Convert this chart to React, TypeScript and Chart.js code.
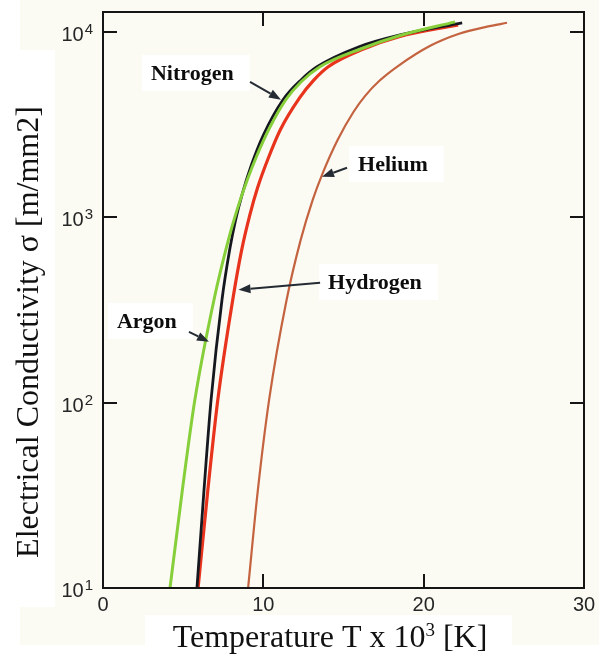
import React, { useEffect, useRef } from "react";
import { Chart, registerables } from "chart.js";

Chart.register(...registerables);

// ---- data (temperature in 10^3 K, conductivity in m/mm2) ----
const argonT = [4.18, 4.95, 5.73, 6.92, 7.82, 8.36, 9.0, 9.62, 10.39, 11.4, 12.36, 13.53, 16.11, 18.47, 21.96];
const argonSigma = [10, 33.8, 103.5, 358, 755, 1096, 1592, 2173, 3034, 4305, 5383, 6486, 8110, 9528, 11324];

const nitrogenT = [5.86, 6.3, 6.74, 7.42, 7.9, 8.27, 8.67, 9.26, 10.01, 11.23, 12.35, 13.35, 15.97, 18.53, 22.4];
const nitrogenSigma = [10, 33.8, 103.5, 358, 667, 968, 1321, 1919, 2786, 4305, 5508, 6486, 8318, 9638, 11194];

const hydrogenT = [5.93, 6.54, 7.16, 8.09, 8.65, 9.16, 9.64, 10.27, 11.06, 12.26, 13.16, 14.05, 16.29, 18.47, 22.15];
const hydrogenSigma = [10, 33.8, 103.5, 358, 667, 1030, 1442, 2042, 2965, 4406, 5508, 6486, 8110, 9419, 10914];

const heliumT = [9.05, 9.66, 10.36, 11.45, 12.33, 13.08, 13.66, 14.64, 15.63, 16.35, 17.24, 18.42, 20.41, 22.21, 23.95, 25.2];
const heliumSigma = [10, 33.8, 103.5, 358, 755, 1242, 1694, 2618, 3707, 4518, 5445, 6561, 8414, 9772, 10666, 11194];

const xTicks = [0, 10, 20, 30];
const yTicks = [10, 100, 1000, 10000];

const xTitleMain = "Temperature T x 10";
const xTitleSup = "3";
const xTitleEnd = " [K]";
const yTitle = "Electrical Conductivity σ [m/mm2]";

// annotation labels with arrow (data coordinates)
const annotations = [
  { text: "Nitrogen", tx: 2.99, ts: 5510, fx: 9.17, fs: 5380, px: 11.1, ps: 4305 },
  { text: "Helium", tx: 15.91, ts: 1778, fx: 15.22, fs: 1849, px: 13.66, ps: 1652 },
  { text: "Hydrogen", tx: 14.04, ts: 411, fx: 13.54, fs: 443, px: 8.45, ps: 406 },
  { text: "Argon", tx: 0.87, ts: 253, fx: 5.36, fs: 241, px: 6.61, ps: 213 },
];

const W = 599;
const H = 658;
const SANS = '"Liberation Sans", Arial, Helvetica, sans-serif';
const SERIF = '"Liberation Serif", "Times New Roman", serif';

const toPoints = (xs: number[], ys: number[]) => xs.map((x, i) => ({ x, y: ys[i] }));

const bgPlugin = {
  id: "bgPlugin",
  beforeDraw(chart: any) {
    const ctx = chart.ctx;
    ctx.save();
    ctx.fillStyle = "#ffffff";
    ctx.fillRect(0, 0, W, H);
    ctx.fillStyle = "#fbfbf4";
    ctx.fillRect(20, 0, W - 20, 645);
    ctx.fillStyle = "#ffffff";
    ctx.fillRect(0, 50, 55, 557);
    ctx.fillRect(145, 615, 367, 43);
    ctx.restore();
  },
};

function arrow(ctx: CanvasRenderingContext2D, x1: number, y1: number, x2: number, y2: number) {
  const ang = Math.atan2(y2 - y1, x2 - x1);
  const len = 12;
  const half = 4.5;
  const bx = x2 - Math.cos(ang) * len;
  const by = y2 - Math.sin(ang) * len;
  ctx.beginPath();
  ctx.moveTo(x1, y1);
  ctx.lineTo(bx, by);
  ctx.stroke();
  ctx.beginPath();
  ctx.moveTo(x2, y2);
  ctx.lineTo(bx + Math.sin(ang) * half, by - Math.cos(ang) * half);
  ctx.lineTo(bx - Math.sin(ang) * half, by + Math.cos(ang) * half);
  ctx.closePath();
  ctx.fill();
}

const decorPlugin = {
  id: "decorPlugin",
  afterDatasetsDraw(chart: any) {
    const ctx: CanvasRenderingContext2D = chart.ctx;
    const xs = chart.scales.x;
    const ys = chart.scales.y;
    const a = chart.chartArea;
    ctx.save();

    // frame
    ctx.strokeStyle = "#151515";
    ctx.lineWidth = 2;
    ctx.strokeRect(a.left, a.top, a.right - a.left, a.bottom - a.top);

    // inward ticks
    const tl = 14;
    ctx.beginPath();
    yTicks.forEach((v) => {
      const y = Math.round(ys.getPixelForValue(v));
      if (y > a.top + 2 && y < a.bottom - 2) {
        ctx.moveTo(a.left, y);
        ctx.lineTo(a.left + tl, y);
        ctx.moveTo(a.right, y);
        ctx.lineTo(a.right - tl, y);
      }
    });
    xTicks.forEach((v) => {
      const x = Math.round(xs.getPixelForValue(v));
      if (x > a.left + 2 && x < a.right - 2) {
        ctx.moveTo(x, a.bottom);
        ctx.lineTo(x, a.bottom - tl);
        ctx.moveTo(x, a.top);
        ctx.lineTo(x, a.top + tl);
      }
    });
    ctx.stroke();

    // y tick labels 10^n
    ctx.fillStyle = "#262626";
    ctx.textBaseline = "alphabetic";
    ctx.textAlign = "left";
    yTicks.forEach((v) => {
      const y = ys.getPixelForValue(v);
      const exp = String(Math.round(Math.log10(v)));
      ctx.font = "20px " + SANS;
      const w1 = ctx.measureText("10").width;
      ctx.font = "15px " + SANS;
      const w2 = ctx.measureText(exp).width;
      const right = a.left - 10;
      const x0 = right - w2 - w1 - 1;
      ctx.font = "20px " + SANS;
      ctx.fillText("10", x0, y + 9);
      ctx.font = "15px " + SANS;
      ctx.fillText(exp, x0 + w1 + 1, y + 2);
    });

    // x tick labels
    ctx.font = "20px " + SANS;
    ctx.textAlign = "center";
    xTicks.forEach((v) => {
      const x = xs.getPixelForValue(v);
      ctx.fillText(String(v), x, a.bottom + 23);
    });

    // axis titles
    ctx.fillStyle = "#111111";
    ctx.textAlign = "left";
    ctx.font = "32px " + SERIF;
    const wm = ctx.measureText(xTitleMain).width;
    const we = ctx.measureText(xTitleEnd).width;
    ctx.font = "19px " + SERIF;
    const wsup = ctx.measureText(xTitleSup).width;
    const total = wm + wsup + we;
    const xt = 330 - total / 2;
    const by = 647;
    ctx.font = "32px " + SERIF;
    ctx.fillText(xTitleMain, xt, by);
    ctx.font = "19px " + SERIF;
    ctx.fillText(xTitleSup, xt + wm, by - 11);
    ctx.font = "32px " + SERIF;
    ctx.fillText(xTitleEnd, xt + wm + wsup, by);

    ctx.save();
    ctx.translate(38, 332);
    ctx.rotate(-Math.PI / 2);
    ctx.textAlign = "center";
    ctx.font = "32px " + SERIF;
    ctx.fillText(yTitle, 0, 0);
    ctx.restore();

    // annotations
    annotations.forEach((an) => {
      const tx = xs.getPixelForValue(an.tx);
      const ty = ys.getPixelForValue(an.ts);
      ctx.font = "bold 22px " + SERIF;
      const tw = ctx.measureText(an.text).width;
      ctx.fillStyle = "#ffffff";
      ctx.fillRect(tx - 9, ty - 25, tw + 25, 36);
      ctx.fillStyle = "#0d0d0d";
      ctx.textAlign = "left";
      ctx.fillText(an.text, tx, ty);
      ctx.strokeStyle = "#252b33";
      ctx.fillStyle = "#252b33";
      ctx.lineWidth = 2;
      arrow(
        ctx,
        xs.getPixelForValue(an.fx),
        ys.getPixelForValue(an.fs),
        xs.getPixelForValue(an.px),
        ys.getPixelForValue(an.ps)
      );
    });

    ctx.restore();
  },
};

export default function App() {
  const ref = useRef<HTMLCanvasElement | null>(null);
  useEffect(() => {
    if (!ref.current) return;
    const chart = new Chart(ref.current, {
      type: "line",
      data: {
        datasets: [
          {
            label: "Argon",
            data: toPoints(argonT, argonSigma),
            borderColor: "#86cf3a",
            borderWidth: 3,
          },
          {
            label: "Nitrogen",
            data: toPoints(nitrogenT, nitrogenSigma),
            borderColor: "#16181f",
            borderWidth: 2.8,
          },
          {
            label: "Hydrogen",
            data: toPoints(hydrogenT, hydrogenSigma),
            borderColor: "#e8331d",
            borderWidth: 3.2,
          },
          {
            label: "Helium",
            data: toPoints(heliumT, heliumSigma),
            borderColor: "#c4633f",
            borderWidth: 2.2,
          },
        ] as any,
      },
      options: {
        animation: false,
        responsive: false,
        devicePixelRatio: 1,
        layout: { padding: { left: 103, top: 12, right: W - 584, bottom: H - 588 } },
        elements: {
          point: { radius: 0 },
          line: { cubicInterpolationMode: "monotone", fill: false },
        },
        scales: {
          x: { type: "linear", min: 0, max: 30, display: false },
          y: { type: "logarithmic", min: 10, max: 12800, display: false },
        },
        plugins: {
          legend: { display: false },
          tooltip: { enabled: false },
        },
      } as any,
      plugins: [bgPlugin, decorPlugin],
    });
    return () => chart.destroy();
  }, []);
  return (
    <div style={{ position: "fixed", left: 0, top: 0, width: W, height: H }}>
      <canvas ref={ref} width={W} height={H} style={{ width: W, height: H, display: "block" }} />
    </div>
  );
}
